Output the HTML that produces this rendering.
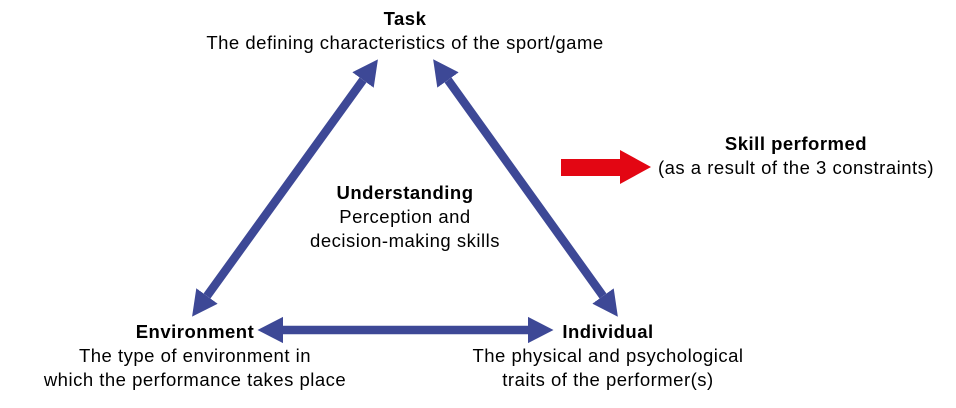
<!DOCTYPE html>
<html><head><style>
body{margin:0;width:956px;height:408px;background:#fff;font-family:"Liberation Sans",Arial,sans-serif;color:#000;position:relative;overflow:hidden}
.t{position:absolute;font-size:18.5px;letter-spacing:0.5px;line-height:24px;text-align:center;white-space:nowrap;transform:translateX(-50%)}
b{font-weight:bold}
</style></head><body>
<svg width="956" height="408" style="position:absolute;left:0;top:0">
<defs>
<marker id="h" markerWidth="4" markerHeight="4" refX="0" refY="2" orient="auto-start-reverse" markerUnits="strokeWidth">
<path d="M0,0.45 L3,2 L0,3.55 Z" fill="#3d4896"/>
</marker>
</defs>
<g stroke="#3d4896" stroke-width="8.5" fill="none">
<line x1="363" y1="80" x2="207" y2="296" marker-start="url(#h)" marker-end="url(#h)"/>
<line x1="448" y1="80" x2="603" y2="296" marker-start="url(#h)" marker-end="url(#h)"/>
<line x1="283" y1="330" x2="528" y2="330" marker-start="url(#h)" marker-end="url(#h)"/>
</g>
<path d="M561,159 L620,159 L620,150 L651,167 L620,184 L620,176 L561,176 Z" fill="#e30613"/>
</svg>
<div class="t" style="left:405px;top:7px"><b>Task</b><br>The defining characteristics of the sport/game</div>
<div class="t" style="left:405px;top:181px"><b>Understanding</b><br>Perception and<br>decision-making skills</div>
<div class="t" style="left:195px;top:320px"><b>Environment</b><br>The type of environment in<br>which the performance takes place</div>
<div class="t" style="left:608px;top:320px"><b>Individual</b><br>The physical and psychological<br>traits of the performer(s)</div>
<div class="t" style="left:796px;top:132px"><b>Skill performed</b><br>(as a result of the 3 constraints)</div>
</body></html>
